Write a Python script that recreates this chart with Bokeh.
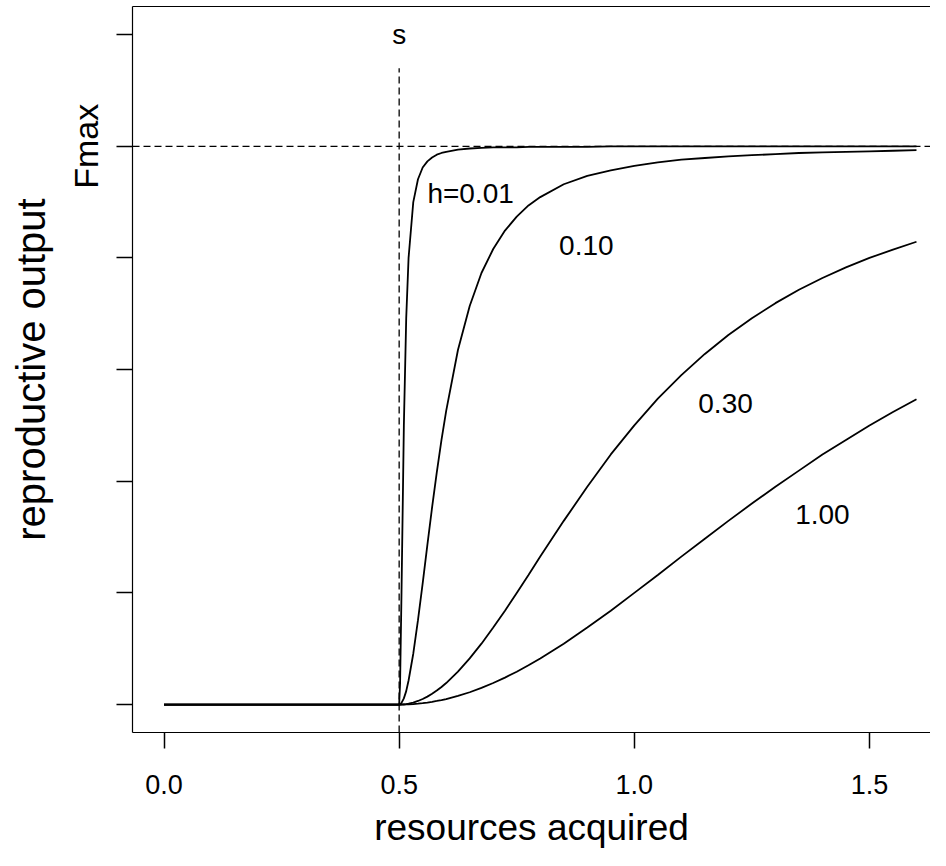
from bokeh.plotting import figure
from bokeh.models import (Range1d, FixedTicker, LinearAxis, CustomJSTickFormatter,
                          PrintfTickFormatter, Span, Label, ColumnDataSource)
from bokeh.core.properties import value
from bokeh.embed import file_html
from bokeh.resources import INLINE

# ---- data ----
s = 0.5            # threshold "s"
Fmax = 1.0         # asymptote
s_line_top = 1.14  # top of the dashed vertical line

x_vals = [0.0, 0.5, 0.502, 0.505, 0.51, 0.515, 0.52, 0.53, 0.54, 0.55, 0.56, 0.57, 0.58, 0.59,
          0.6, 0.625, 0.65, 0.675, 0.7, 0.725, 0.75, 0.775, 0.8, 0.85, 0.9, 0.95, 1.0,
          1.05, 1.1, 1.15, 1.2, 1.25, 1.3, 1.35, 1.4, 1.45, 1.5, 1.55, 1.6]

y_h001 = [0, 0, 0.038, 0.2, 0.5, 0.692, 0.8, 0.9, 0.941, 0.962, 0.973, 0.98, 0.985, 0.988,
          0.990, 0.994, 0.996, 0.997, 0.998, 0.998, 0.998, 0.999, 0.999, 0.999, 0.999, 1.0, 1.0,
          1.0, 1.0, 1.0, 1.0, 1.0, 1.0, 1.0, 1.0, 1.0, 1.0, 1.0, 1.0]
y_h010 = [0, 0, 0.0004, 0.003, 0.011, 0.024, 0.043, 0.091, 0.151, 0.217, 0.286, 0.353, 0.416, 0.474,
          0.526, 0.635, 0.714, 0.773, 0.816, 0.849, 0.874, 0.894, 0.909, 0.932, 0.947, 0.957, 0.965,
          0.971, 0.976, 0.979, 0.982, 0.984, 0.986, 0.988, 0.989, 0.990, 0.991, 0.992, 0.993]
y_h030 = [0, 0, 0.0, 0.0001, 0.0004, 0.0009, 0.0016, 0.0036, 0.0064, 0.0099, 0.0142, 0.0192, 0.025, 0.0314,
          0.0385, 0.0588, 0.0826, 0.109, 0.138, 0.168, 0.2, 0.232, 0.265, 0.329, 0.390, 0.448, 0.5,
          0.548, 0.590, 0.628, 0.662, 0.692, 0.719, 0.743, 0.764, 0.783, 0.8, 0.815, 0.829]
y_h100 = [0, 0, 0, 0, 0.0001, 0.0002, 0.0004, 0.0009, 0.0016, 0.0025, 0.0036, 0.0049, 0.0064, 0.008,
          0.0099, 0.0154, 0.022, 0.0297, 0.0385, 0.0482, 0.0588, 0.0703, 0.0826, 0.109, 0.138, 0.168, 0.2,
          0.232, 0.265, 0.297, 0.329, 0.36, 0.390, 0.419, 0.448, 0.474, 0.5, 0.524, 0.547]

curve_labels = ["h=0.01", "0.10", "0.30", "1.00"]
label_x = [0.560, 0.898, 1.194, 1.400]
label_y = [0.916, 0.823, 0.540, 0.340]
label_align = ["left", "center", "center", "center"]

x_ticks = [0.0, 0.5, 1.0, 1.5]
y_ticks = [0.0, 0.2, 0.4, 0.6, 0.8, 1.0, 1.2]

FONT = "Liberation Sans"

p = figure(width=930, height=850,
           x_range=Range1d(-0.067, 1.6298), y_range=Range1d(-0.0501, 1.2504),
           output_backend="svg", toolbar_location=None,
           min_border_left=132, min_border_right=0, min_border_top=6, min_border_bottom=117)
p.xgrid.visible = False
p.ygrid.visible = False
p.outline_line_color = None
p.background_fill_color = "white"
p.border_fill_color = "white"

# x axis
xa = p.xaxis[0]
xa.ticker = FixedTicker(ticks=x_ticks)
xa.formatter = PrintfTickFormatter(format="%.1f")
xa.major_tick_out = 16
xa.major_tick_in = 0
xa.minor_tick_out = 0
xa.minor_tick_in = 0
xa.major_tick_line_width = 1.5
xa.major_tick_line_color = "black"
xa.axis_line_width = 1.2
xa.axis_line_color = "black"
xa.major_label_text_font = FONT
xa.major_label_text_font_size = "27px"
xa.major_label_text_color = "black"
xa.major_label_standoff = 26
xa.axis_label = "resources acquired"
xa.axis_label_text_font = FONT
xa.axis_label_text_font_size = "37px"
xa.axis_label_text_font_style = "normal"
xa.axis_label_text_color = "black"
xa.axis_label_standoff = 10

# y axis
ya = p.yaxis[0]
ya.ticker = FixedTicker(ticks=y_ticks)
ya.formatter = CustomJSTickFormatter(code="return Math.abs(tick - 1.0) < 1e-9 ? 'Fmax' : '';")
ya.major_label_orientation = "vertical"
ya.major_tick_out = 16
ya.major_tick_in = 0
ya.minor_tick_out = 0
ya.minor_tick_in = 0
ya.major_tick_line_width = 1.5
ya.major_tick_line_color = "black"
ya.axis_line_width = 1.2
ya.axis_line_color = "black"
ya.major_label_text_font = FONT
ya.major_label_text_font_size = "34px"
ya.major_label_text_color = "black"
ya.major_label_standoff = 11
ya.axis_label = "reproductive output"
ya.axis_label_text_font = FONT
ya.axis_label_text_font_size = "40px"
ya.axis_label_text_font_style = "normal"
ya.axis_label_text_color = "black"
ya.axis_label_standoff = 12

# top border of the box
top = LinearAxis(ticker=FixedTicker(ticks=[]), major_tick_out=0, major_tick_in=0,
                 minor_tick_out=0, minor_tick_in=0, major_label_text_font_size="0px",
                 major_label_standoff=0, axis_line_width=1.2, axis_line_color="black")
p.add_layout(top, "above")

# reference lines
p.add_layout(Span(location=Fmax, dimension="width", line_color="black",
                  line_width=1.3, line_dash="7 4"))
p.segment(x0=[s], y0=[p.y_range.start], x1=[s], y1=[s_line_top],
          line_color="black", line_width=1.3, line_dash="7 4")

# curves
for ys in (y_h001, y_h010, y_h030, y_h100):
    p.line(x_vals, ys, line_color="black", line_width=1.8)

# curve labels
src = ColumnDataSource(dict(x=label_x, y=label_y, t=curve_labels, a=label_align))
p.text(x="x", y="y", text="t", text_align="a", text_baseline="middle", source=src,
       text_font=value(FONT), text_font_size="28px", text_color="black")

# "s" label
p.add_layout(Label(x=s, y=1.2, text="s", text_align="center", text_baseline="middle",
                   text_font=FONT, text_font_size="28px", text_color="black"))

open("out.html", "w").write(file_html(p, INLINE))
